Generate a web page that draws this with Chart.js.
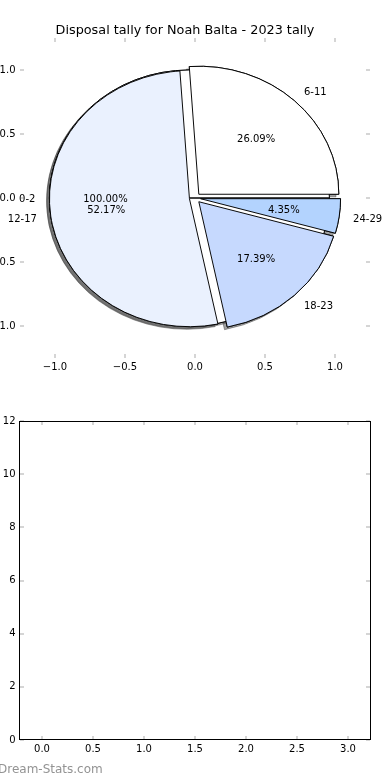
<!DOCTYPE html>
<html>
<head>
<meta charset="utf-8">
<script src="https://cdn.jsdelivr.net/npm/chart.js@4.4.1/dist/chart.umd.min.js"></script>
<style>
  html, body { margin: 0; padding: 0; background: #fff; }
  body { width: 390px; height: 780px; position: relative; overflow: hidden; }
  canvas { position: absolute; left: 0; top: 0; }
  #pieBase { visibility: hidden; }
  #axesBottom { top: 380px; }
  .mark { position: absolute; left: -2px; top: 762px; font: 12px "DejaVu Sans", sans-serif; color: #939393; }
</style>
</head>
<body>
<canvas id="axesTop" width="390" height="380"></canvas>
<canvas id="pieBase"></canvas>
<canvas id="pieTop"></canvas>
<canvas id="axesBottom" width="390" height="400"></canvas>
<div class="mark">Dream-Stats.com</div>
<script>
// disposals per age band (games)
const ageBands = ['6-11', '12-17', '18-23', '24-29'];
const gamesPerBand = [6, 12, 4, 1];
const bandColors = ['#ffffff', '#eaf1fe', '#c6d9fe', '#b3d3fe'];
// 0-2 comes out as a full disc (100%) underneath the others
const emptyBand = ['0-2'];
const emptyBandShare = [100];

const pieTicks = [-1.0, -0.5, 0.0, 0.5, 1.0];
const lowerXTicks = [0.0, 0.5, 1.0, 1.5, 2.0, 2.5, 3.0];
const lowerYTicks = [0, 2, 4, 6, 8, 10, 12];

const EXPLODE = 0.04;
const SHADOW = 'rgba(70,70,70,0.5)';

Chart.defaults.font.family = "'DejaVu Sans', sans-serif";
Chart.defaults.font.size = 10;
Chart.defaults.color = '#000';
Chart.defaults.animation = false;

const fmt = v => (v < 0 ? '\u2212' : '') + Math.abs(v).toFixed(1);

// маленькие серые засечки внутрь со всех сторон
const innerTicks = {
    id: 'innerTicks',
    afterDraw(chart, args, opts) {
        const {ctx, chartArea: a, scales: {x, y}} = chart;
        ctx.save();
        ctx.strokeStyle = '#c8c8c8';
        ctx.lineWidth = 1.5;
        ctx.beginPath();
        x.ticks.forEach((t, i) => {
            const px = Math.round(x.getPixelForTick(i));
            ctx.moveTo(px, a.top); ctx.lineTo(px, a.top + 4);
            ctx.moveTo(px, a.bottom); ctx.lineTo(px, a.bottom - 4);
        });
        y.ticks.forEach((t, i) => {
            const py = Math.round(y.getPixelForTick(i));
            ctx.moveTo(a.left, py); ctx.lineTo(a.left + 4, py);
            ctx.moveTo(a.right, py); ctx.lineTo(a.right - 4, py);
        });
        ctx.stroke();
        if (opts.frame) {
            ctx.strokeStyle = '#000';
            ctx.lineWidth = 1;
            ctx.strokeRect(Math.round(a.left) - 0.5, Math.round(a.top) + 0.5,
                Math.round(a.right - a.left) + 1, Math.round(a.bottom - a.top) - 1);
        }
        ctx.restore();
    }
};

function scale(min, max, ticks, cb, size, isX, pad) {
    return {
        min: min,
        max: max,
        grid: { display: false, drawTicks: false },
        border: { display: false },
        afterBuildTicks: s => { s.ticks = ticks.map(v => ({ value: v })); },
        afterFit: s => { if (isX) s.height = size; else s.width = size; },
        ticks: { padding: pad, callback: cb, maxRotation: 0, autoSkip: false }
    };
}

// верхние оси (под пирогом)
let axesTop = new Chart(document.getElementById('axesTop'), {
    type: 'scatter',
    data: { datasets: [] },
    options: {
        responsive: false,
        layout: { padding: { right: 20 } },
        plugins: {
            legend: { display: false },
            tooltip: { enabled: false },
            title: {
                display: true,
                text: 'Disposal tally for Noah Balta - 2023 tally',
                font: { size: 12.8, weight: 'normal' },
                color: '#000',
                padding: { top: 22.6, bottom: 0 }
            },
            innerTicks: { frame: false }
        },
        scales: {
            x: scale(-1.25, 1.25, pieTicks, fmt, 22, true, 3),
            y: scale(-1.25, 1.25, pieTicks, fmt, 20, false, 4.5)
        }
    },
    plugins: [innerTicks]
});

// pie sits in the data space of the top axes
const sx = axesTop.scales.x, sy = axesTop.scales.y;
const cx = sx.getPixelForValue(0), cy = sy.getPixelForValue(0);
const unitX = sx.getPixelForValue(1) - cx;
const unitY = cy - sy.getPixelForValue(1);
['pieBase', 'pieTop'].forEach(id => {
    const c = document.getElementById(id);
    c.width = Math.round(cx * 2);
    c.height = Math.round(cy * 2);
});

function pieOptions() {
    return {
        responsive: false,
        rotation: 90,
        radius: unitX,
        plugins: { legend: { display: false }, tooltip: { enabled: false } }
    };
}

let pieBase = new Chart(document.getElementById('pieBase'), {
    type: 'pie',
    data: {
        labels: emptyBand,
        datasets: [{ data: emptyBandShare, backgroundColor: '#ffffff', borderColor: '#000', borderWidth: 1 }]
    },
    options: pieOptions()
});

// сдвиг секторов, тень и эллипс (оси не равны по масштабу)
const explodedPie = {
    id: 'explodedPie',
    beforeDatasetsDraw(chart) {
        const ctx = chart.ctx;
        const arcs = pieBase.getDatasetMeta(0).data.concat(chart.getDatasetMeta(0).data);
        const y0 = arcs[0].y;
        ctx.save();
        ctx.translate(0, y0);
        ctx.scale(1, unitY / unitX);
        ctx.translate(0, -y0);
        ctx.shadowOffsetX = -0.02 * unitX;
        ctx.shadowOffsetY = 0.02 * unitY;
        [SHADOW, 'rgba(0,0,0,0)'].forEach(shadow => {
            ctx.shadowColor = shadow;
            arcs.forEach(arc => {
                const mid = (arc.startAngle + arc.endAngle) / 2;
                ctx.save();
                ctx.translate(Math.cos(mid) * EXPLODE * arc.outerRadius, Math.sin(mid) * EXPLODE * arc.outerRadius);
                arc.draw(ctx);
                ctx.restore();
            });
        });
        ctx.restore();
        return false;
    },
    afterDraw(chart) {
        const ctx = chart.ctx;
        const k = unitY / unitX;
        ctx.save();
        ctx.font = '10px "DejaVu Sans"';
        ctx.fillStyle = '#000';
        ctx.textBaseline = 'middle';
        [pieBase, chart].forEach(c => {
            const values = c.data.datasets[0].data;
            const total = values.reduce((s, v) => s + v, 0);
            c.getDatasetMeta(0).data.forEach((arc, i) => {
                const mid = (arc.startAngle + arc.endAngle) / 2;
                const cos = Math.cos(mid), sin = Math.sin(mid);
                const R = arc.outerRadius;
                // +1.5: matplotlib centres on the text box, a bit lower than canvas 'middle'
                ctx.textAlign = cos > 0 ? 'left' : 'right';
                ctx.fillText(c.data.labels[i], arc.x + cos * (1.1 + EXPLODE) * R, arc.y + sin * (1.1 + EXPLODE) * R * k + 1.5);
                ctx.textAlign = 'center';
                ctx.fillText((values[i] / total * 100).toFixed(2) + '%',
                    arc.x + cos * (0.6 + EXPLODE) * R, arc.y + sin * (0.6 + EXPLODE) * R * k + 1.5);
            });
        });
        ctx.restore();
    }
};

// matplotlib goes counter-clockwise, Chart.js clockwise -> reverse
let pieTop = new Chart(document.getElementById('pieTop'), {
    type: 'pie',
    data: {
        labels: ageBands.slice().reverse(),
        datasets: [{
            data: gamesPerBand.slice().reverse(),
            backgroundColor: bandColors.slice().reverse(),
            borderColor: '#000',
            borderWidth: 1
        }]
    },
    options: pieOptions(),
    plugins: [explodedPie]
});

// нижние пустые оси
let axesBottom = new Chart(document.getElementById('axesBottom'), {
    type: 'scatter',
    data: { datasets: [] },
    options: {
        responsive: false,
        layout: { padding: { top: 41, right: 20 } },
        plugins: {
            legend: { display: false },
            tooltip: { enabled: false },
            innerTicks: { frame: true }
        },
        scales: {
            x: scale(-0.216, 3.216, lowerXTicks, v => v.toFixed(1), 40, true, 3),
            y: scale(0, 12, lowerYTicks, v => String(v), 20, false, 4.5)
        }
    },
    plugins: [innerTicks]
});
</script>
</body>
</html>
